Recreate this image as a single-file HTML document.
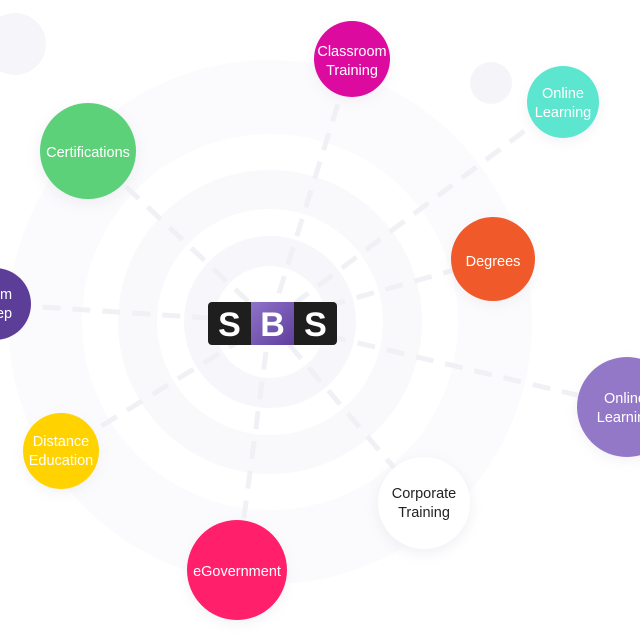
<!DOCTYPE html>
<html><head><meta charset="utf-8"><style>
html,body{margin:0;padding:0;background:#fff;}
svg{display:block;font-family:"Liberation Sans",sans-serif;}
</style></head><body>
<svg width="640" height="640" viewBox="0 0 640 640" xmlns="http://www.w3.org/2000/svg">
<defs>
<filter id="sh" x="-50%" y="-50%" width="200%" height="200%"><feGaussianBlur stdDeviation="6"/></filter>
<linearGradient id="pb" x1="0" y1="0" x2="1" y2="1"><stop offset="0" stop-color="#8f72c9"/><stop offset="1" stop-color="#5f3f9c"/></linearGradient>
</defs>
<rect width="640" height="640" fill="#fff"/>
<circle cx="15" cy="44" r="31" fill="#f6f6fa"/>
<circle cx="491" cy="83" r="21" fill="#f5f5f9"/>
<circle cx="230" cy="85" r="12" fill="#f5f5f9"/>
<circle cx="270" cy="322" r="262" fill="#fbfbfd"/>
<circle cx="270" cy="322" r="188" fill="#fff"/>
<circle cx="270" cy="322" r="152" fill="#f9f9fc"/>
<circle cx="270" cy="322" r="113" fill="#fff"/>
<circle cx="270" cy="322" r="86" fill="#f6f6fb"/>
<circle cx="270" cy="322" r="56" fill="#fff"/>
<g stroke="#f0f1f5" stroke-width="5" stroke-dasharray="18 12" fill="none">
<line x1="270" y1="322" x2="352" y2="59"/>
<line x1="270" y1="322" x2="563" y2="102"/>
<line x1="270" y1="322" x2="88" y2="151"/>
<line x1="270" y1="322" x2="493" y2="259"/>
<line x1="270" y1="322" x2="-5" y2="304"/>
<line x1="270" y1="322" x2="627" y2="407"/>
<line x1="270" y1="322" x2="61" y2="451"/>
<line x1="270" y1="322" x2="424" y2="503"/>
<line x1="270" y1="322" x2="237" y2="570"/>
</g>
<g fill="#e6e6ee" opacity="0.5" filter="url(#sh)">
<circle cx="88" cy="155" r="50"/><circle cx="424" cy="507" r="48"/><circle cx="237" cy="574" r="50"/><circle cx="493" cy="263" r="42"/><circle cx="627" cy="411" r="50"/><circle cx="61" cy="455" r="38"/><circle cx="352" cy="63" r="38"/><circle cx="563" cy="106" r="36"/>
</g>
<circle cx="352" cy="59" r="38" fill="#dd0aa0"/>
<circle cx="563" cy="102" r="36" fill="#5ce6d0"/>
<circle cx="88" cy="151" r="48" fill="#5dd07a"/>
<circle cx="493" cy="259" r="42" fill="#f05a2a"/>
<circle cx="-5" cy="304" r="36" fill="#5c3d98"/>
<circle cx="627" cy="407" r="50" fill="#9478c8"/>
<circle cx="61" cy="451" r="38" fill="#ffd200"/>
<circle cx="424" cy="503" r="46" fill="#fff"/>
<circle cx="237" cy="570" r="50" fill="#ff1f6a"/>
<g fill="#fff" font-size="14.5" text-anchor="middle">
<text x="352" y="56">Classroom</text><text x="352" y="75">Training</text>
<text x="563" y="98">Online</text><text x="563" y="117">Learning</text>
<text x="88" y="157">Certifications</text>
<text x="493" y="266">Degrees</text>
<text x="6" y="299">m</text><text x="4" y="318">ep</text>
<text x="625" y="403">Online</text><text x="625" y="422">Learning</text>
<text x="61" y="446">Distance</text><text x="61" y="465">Education</text>
<text x="237" y="576">eGovernment</text>
<text x="424" y="498" fill="#222">Corporate</text><text x="424" y="517" fill="#222">Training</text>
</g>
<rect x="208" y="302" width="129" height="43" rx="4" fill="#1e1e1e"/>
<rect x="251" y="302" width="43" height="43" fill="url(#pb)"/>
<g fill="#fff" font-size="34" font-weight="bold" text-anchor="middle">
<text x="229.5" y="336">S</text><text x="272.5" y="336">B</text><text x="315.5" y="336">S</text>
</g>
</svg>
</body></html>
